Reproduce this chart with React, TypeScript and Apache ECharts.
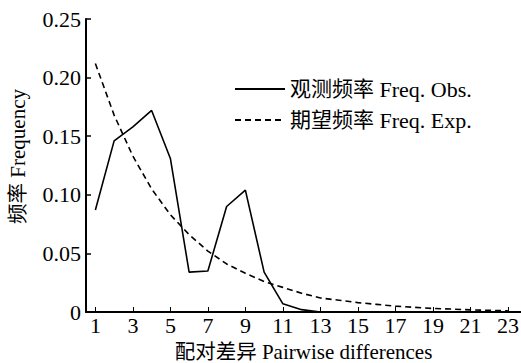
import React, { useEffect, useRef } from "react";
import * as echarts from "echarts";

const xValues = [1, 2, 3, 4, 5, 6, 7, 8, 9, 10, 11, 12, 13, 14, 15, 16, 17, 18, 19, 20, 21, 22, 23];
const observed = [0.087, 0.146, 0.158, 0.172, 0.131, 0.034, 0.035, 0.09, 0.104, 0.034, 0.007, 0.002, 0, 0, 0, 0, 0, 0, 0, 0, 0, 0, 0];
const expected = [0.212, 0.168, 0.133, 0.105, 0.083, 0.066, 0.052, 0.041, 0.033, 0.026, 0.021, 0.016, 0.012, 0.01, 0.008, 0.0065, 0.005, 0.004, 0.003, 0.0025, 0.0018, 0.0014, 0.001];
const xTickValues = [1, 3, 5, 7, 9, 11, 13, 15, 17, 19, 21, 23];
const seriesNamesCn = ["观测频率", "期望频率"];
const seriesNamesEn = ["Freq. Obs.", "Freq. Exp."];
const seriesNames = seriesNamesCn.map((c, i) => `${c} ${seriesNamesEn[i]}`);
const xAxisNameCn = "配对差异";
const xAxisNameEn = "Pairwise differences";
const yAxisNameCn = "频率";
const yAxisNameEn = "Frequency";

const FONT = "Liberation Serif, Noto Sans CJK SC, serif";

export default function App() {
  const ref = useRef<HTMLDivElement>(null);
  useEffect(() => {
    if (!ref.current) return;
    const chart = echarts.init(ref.current, null, { renderer: "svg" });
    const text = { color: "#000", fontFamily: FONT, fontSize: 22 };
    const nameRich = {
      c: { color: "#000", fontFamily: FONT, fontSize: 20.5, lineHeight: 22 },
      l: { color: "#000", fontFamily: FONT, fontSize: 21, lineHeight: 22 },
    };
    chart.setOption({
      animation: false,
      backgroundColor: "#fff",
      grid: { left: 86, right: 0, top: 19, bottom: 51, containLabel: false, outerBoundsMode: "none" },
      legend: {
        orient: "vertical",
        left: 229,
        top: 72,
        itemWidth: 50,
        itemHeight: 10,
        itemGap: 7,
        itemStyle: { opacity: 0 },
        textStyle: {
          color: "#000",
          fontFamily: FONT,
          fontSize: 22,
          lineHeight: 24,
          rich: {
            c: { color: "#000", fontFamily: FONT, fontSize: 21, lineHeight: 24 },
            l: { color: "#000", fontFamily: FONT, fontSize: 22, lineHeight: 24 },
          },
        },
        formatter: (name: string) => {
          const i = seriesNames.indexOf(name);
          return `{c|${seriesNamesCn[i]}}{l| ${seriesNamesEn[i]}}`;
        },
        data: seriesNames,
      },
      xAxis: {
        type: "value",
        min: 0.5,
        max: 23.7,
        name: `{c|${xAxisNameCn}}{l| ${xAxisNameEn}}`,
        nameLocation: "middle",
        nameGap: 28,
        nameTextStyle: { ...text, fontSize: 21, lineHeight: 22, rich: nameRich },
        splitLine: { show: false },
        axisLine: { lineStyle: { color: "#000", width: 2 } },
        axisTick: { inside: true, length: 5, customValues: xTickValues, lineStyle: { color: "#000", width: 1 } },
        axisLabel: { ...text, margin: 2, customValues: xTickValues, showMinLabel: true, showMaxLabel: true },
      },
      yAxis: {
        type: "value",
        min: 0,
        max: 0.25,
        interval: 0.05,
        name: `{c|${yAxisNameCn}}{l| ${yAxisNameEn}}`,
        nameLocation: "middle",
        nameGap: 57,
        nameTextStyle: { ...text, fontSize: 21, lineHeight: 22, rich: nameRich, padding: [0, 0, 0, 18] },
        splitLine: { show: false },
        axisLine: { show: true, lineStyle: { color: "#000", width: 2 } },
        axisTick: { show: true, inside: true, length: 5, lineStyle: { color: "#000", width: 1.5 } },
        axisLabel: {
          ...text,
          margin: 5,
          formatter: (v: number) => (v === 0 ? "0" : v.toFixed(2)),
        },
      },
      series: [
        {
          name: seriesNames[0],
          type: "line",
          data: xValues.map((x, i) => [x, observed[i]]),
          symbol: "none",
          lineStyle: { color: "#000", width: 1.6, type: "solid" },
          itemStyle: { color: "#000" },
        },
        {
          name: seriesNames[1],
          type: "line",
          data: xValues.map((x, i) => [x, expected[i]]),
          symbol: "none",
          lineStyle: { color: "#000", width: 1.6, type: [6, 4] },
          itemStyle: { color: "#000" },
        },
      ],
    });
    return () => chart.dispose();
  }, []);
  return <div ref={ref} style={{ position: "fixed", left: 0, top: 0, width: 521, height: 363 }} />;
}
